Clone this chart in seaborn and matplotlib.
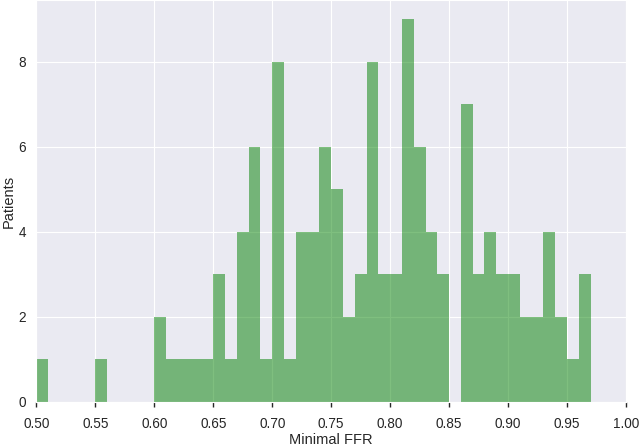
import numpy as np
import pandas as pd
import matplotlib
matplotlib.use("Agg")
import matplotlib.pyplot as plt
import seaborn as sns

# Histogram bins (left edges, width 0.01) and patient counts
bin_left = [0.50, 0.51, 0.52, 0.53, 0.54, 0.55, 0.56, 0.57, 0.58, 0.59,
            0.60, 0.61, 0.62, 0.63, 0.64, 0.65, 0.66, 0.67, 0.68, 0.69,
            0.70, 0.71, 0.72, 0.73, 0.74, 0.75, 0.76, 0.77, 0.78, 0.79,
            0.80, 0.81, 0.82, 0.83, 0.84, 0.85, 0.86, 0.87, 0.88, 0.89,
            0.90, 0.91, 0.92, 0.93, 0.94, 0.95, 0.96]
counts = [1, 0, 0, 0, 0, 1, 0, 0, 0, 0,
          2, 1, 1, 1, 1, 3, 1, 4, 6, 1,
          8, 1, 4, 4, 6, 5, 2, 3, 8, 3,
          3, 9, 6, 4, 3, 0, 7, 3, 4, 3,
          3, 2, 2, 4, 2, 1, 3]
bin_width = 0.01
xticks = [0.50, 0.55, 0.60, 0.65, 0.70, 0.75, 0.80, 0.85, 0.90, 0.95, 1.00]

df = pd.DataFrame({"ffr": [b + bin_width / 2 for b in bin_left], "n": counts})
edges = [round(b, 4) for b in bin_left] + [round(bin_left[-1] + bin_width, 4)]

sns.set_style("darkgrid", {"xtick.bottom": True, "xtick.color": ".15"})
plt.rcParams["font.family"] = ["Liberation Sans", "DejaVu Sans"]

fig = plt.figure(figsize=(6.4, 4.47), dpi=100)
ax = fig.add_axes([0.057, 0.1007, 0.921, 0.8993])
sns.histplot(data=df, x="ffr", weights="n", bins=edges, color="g",
             alpha=0.5, linewidth=0, ax=ax)

ax.set_xlim(0.50, 1.00)
ax.set_xticks(xticks)
ax.set_xticklabels([f"{t:.2f}" for t in xticks])
ax.tick_params(axis="x", length=3.3, width=1, labelsize=9.8, pad=7.7)
ax.tick_params(axis="y", length=0, labelsize=9.8, pad=7.5)
ax.set_xlabel("Minimal FFR", fontsize=10.5, labelpad=0.9)
ax.set_ylabel("Patients", fontsize=10.5, labelpad=2)

fig.savefig("out.png", dpi=100)
